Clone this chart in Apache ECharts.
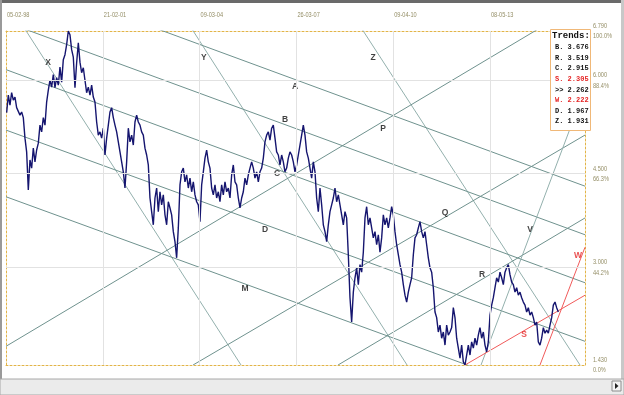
<!DOCTYPE html>
<html><head><meta charset="utf-8">
<script src="https://cdn.jsdelivr.net/npm/echarts@6/dist/echarts.min.js"></script>
<style>html,body{margin:0;padding:0;background:#fff;overflow:hidden}#c{width:624px;height:395px}</style>
</head><body><div id="c"></div>
<script>
// ---- axis ticks ----
const dateTickValues = [0, 755, 1510, 2265, 3020, 3775];
const dateTickLabels = ['05-02-98', '21-02-01', '09-03-04', '26-03-07', '09-04-10', '08-05-13'];
const priceTickValues = [1.43, 3.0, 4.5, 6.0, 6.79];
const priceTickPct = ['0.0%', '44.2%', '66.3%', '88.4%', '100.0%'];
const priceGridValues = [3.0, 4.5, 6.0];
const xMin = 0, xMax = 4516, yMin = 1.43, yMax = 6.79;

// ---- price series (one value every 13 bars, starting at bar 5) ----
const priceStartX = 5, priceStepX = 13;
const prices = [
5.48,5.76,5.60,5.80,5.68,5.73,5.56,5.57,5.44,5.49,5.40,5.07,4.85,4.24,4.72,4.59,4.91,4.69,4.88,4.99,
5.28,5.17,5.40,5.28,5.65,5.84,6.00,5.89,6.09,5.88,6.04,5.92,6.21,5.97,6.33,6.41,6.57,6.79,6.73,6.49,
6.37,5.88,6.28,6.60,6.29,6.12,6.20,6.00,5.80,5.89,5.76,5.92,5.73,5.65,5.33,5.12,5.17,5.07,5.23,4.80,
5.07,5.28,5.49,5.56,5.40,5.28,5.17,5.01,4.85,4.69,4.53,4.27,4.69,5.23,5.01,5.12,4.96,5.33,5.44,5.33,
5.28,5.17,5.12,4.91,4.80,4.64,4.11,
3.89,3.68,4.11,4.27,3.89,4.21,4.00,4.16,3.84,3.68,4.05,3.95,3.84,3.57,3.41,3.15,3.63,4.32,4.53,4.59,
4.37,4.48,4.27,4.43,4.21,4.37,4.16,4.05,4.00,3.73,4.32,4.53,4.75,4.88,4.69,4.59,4.27,4.16,4.32,4.11,
4.21,4.05,4.32,4.16,4.37,4.21,4.27,4.11,4.48,4.64,4.37,4.32,4.11,3.95,4.11,4.21,4.43,4.32,4.48,4.59,
4.69,4.59,4.43,4.53,4.37,4.53,4.59,4.75,5.01,5.12,5.17,5.04,5.23,5.28,5.07,4.85,4.80,4.64,4.80,4.69,
4.53,4.59,4.75,4.85,
4.80,4.69,4.53,4.64,4.80,4.96,5.12,5.28,5.12,4.85,4.75,4.59,4.43,4.69,4.53,4.11,3.89,4.27,4.00,3.68,
3.57,3.41,3.68,3.89,4.00,4.11,4.27,4.05,4.16,4.00,3.84,3.68,3.89,3.79,3.20,2.51,2.12,2.60,2.83,2.99,
2.72,3.04,2.92,3.24,3.79,3.97,3.68,3.79,3.63,3.47,3.57,3.36,3.52,3.24,3.47,3.84,3.68,3.79,3.63,3.79,
3.97,3.84,3.57,3.36,3.20,3.04,2.92,2.72,2.55,2.44,2.60,2.72,2.83,3.20,3.47,3.52,3.63,3.73,3.57,3.47,
3.57,3.36,3.15,2.99,2.92,2.67,2.28,
2.19,1.96,2.07,1.86,1.96,1.75,2.07,1.91,1.96,2.03,2.35,2.19,1.86,1.70,1.54,1.75,1.48,1.43,1.59,1.75,
1.59,1.80,1.70,1.86,1.75,1.91,2.03,1.86,1.96,1.75,1.64,1.80,2.23,2.39,2.51,2.67,2.83,2.76,2.92,2.83,
2.72,2.92,2.99,3.04,2.88,2.76,2.72,2.60,2.67,2.55,2.60,2.51,2.44,2.39,2.28,2.35,2.23,2.28,2.19,2.07,
2.12,1.80,1.75,1.86,2.03,1.94,1.99,1.94,2.07,2.19,2.39,2.44,2.35,2.28
];

// ---- trend lines (two anchor points each, in bar / price units) ----
const trendIds = ['X', 'Y', 'Z', 'A', 'B', 'C', 'D', 'M', 'P', 'Q', 'R', 'V', 'S', 'W'];
const trendX1 = [148, 1451, 2777, 1186, 148, 0, 0, 0, 0, 1459, 2590, 3705, 3580, 4165];
const trendY1 = [6.82, 6.82, 6.82, 6.82, 6.82, 6.17, 5.20, 4.13, 1.73, 1.43, 1.43, 1.43, 1.43, 1.43];
const trendX2 = [1833, 3128, 4477, 4516, 4516, 4516, 4516, 4516, 4516, 4516, 4516, 4516, 4516, 4516];
const trendY2 = [1.43, 1.43, 1.43, 4.30, 3.52, 2.75, 1.81, 0.74, 7.27, 5.12, 3.79, 5.86, 2.55, 3.32];
const redTrends = ['S', 'W'];
const steepTrends = ['X', 'Y', 'Z', 'V'];

// ---- letter labels on chart ----
const labelNames = ['X', 'Y', 'Z', 'A', 'B', 'P', 'C', 'Q', 'D', 'V', 'R', 'M', 'S', 'W'];
const labelX = [328, 1544, 2863, 2254, 2176, 2941, 2114, 3424, 2020, 4087, 3713, 1864, 4040, 4462];
const labelY = [6.29, 6.37, 6.37, 5.89, 5.36, 5.23, 4.50, 3.87, 3.61, 3.61, 2.88, 2.65, 1.91, 3.18];

// ---- trend value box ----
const boxTitle = 'Trends:';
const boxNames = ['B.', 'R.', 'C.', 'S.', '>>', 'W.', 'D.', 'Z.'];
const boxValues = [3.676, 3.519, 2.915, 2.305, 2.262, 2.222, 1.967, 1.931];
const boxRed = ['S.', 'W.'];

const chart = echarts.init(document.getElementById('c'), null, { renderer: 'canvas' });

const axisFont = "8px 'Liberation Sans',Arial,sans-serif";
const labelColor = '#948e66';
const borderStyle = { color: '#e2b448', width: 1, type: [2, 2] };
const hiddenLabel = { show: false };

const series = [];
series.push({
  type: 'line', data: [], silent: true, z: 1,
  markLine: {
    silent: true, symbol: ['none', 'none'], label: { show: false }, animation: false,
    lineStyle: { color: '#e2e2e2', width: 1, type: 'solid' },
    data: dateTickValues.filter(v => v > xMin).map(v => ({ xAxis: v }))
      .concat(priceGridValues.map(v => ({ yAxis: v })))
  }
});
trendIds.forEach((id, i) => {
  const red = redTrends.includes(id);
  const steep = steepTrends.includes(id);
  series.push({
    type: 'line', silent: true, z: 2, showSymbol: false, clip: true,
    data: [[trendX1[i], trendY1[i]], [trendX2[i], trendY2[i]]],
    lineStyle: { width: 1, color: red ? '#f05a5a' : (steep ? '#93b0ad' : '#6f928e') }
  });
});
series.push({
  type: 'line', z: 3, showSymbol: false, sampling: 'none', clip: true,
  data: prices.map((p, i) => [priceStartX + i * priceStepX, p]),
  lineStyle: { width: 1.4, color: '#15156f' }
});
series.push({
  type: 'scatter', z: 4, symbolSize: 0, silent: true,
  data: labelNames.map((n, i) => ({
    value: [labelX[i], labelY[i], n],
    label: { color: redTrends.includes(n) ? '#e52424' : '#111' }
  })),
  label: {
    show: true, position: 'inside', formatter: p => p.data.value[2],
    fontFamily: "'Liberation Sans',Arial,sans-serif", fontWeight: 'bold', fontSize: 8.5
  }
});

const axisBase = {
  type: 'value', axisTick: { show: false }, splitLine: { show: false }, axisLabel: hiddenLabel,
  axisLine: { show: true, onZero: false, lineStyle: borderStyle }
};

chart.setOption({
  animation: false,
  backgroundColor: '#fff',
  grid: { left: 6, right: 39, top: 31, bottom: 30, show: false },
  xAxis: [
    Object.assign({}, axisBase, { position: 'top', min: xMin, max: xMax }),
    Object.assign({}, axisBase, { position: 'bottom', min: xMin, max: xMax })
  ],
  yAxis: [
    Object.assign({}, axisBase, { position: 'right', min: yMin, max: yMax }),
    Object.assign({}, axisBase, { position: 'left', min: yMin, max: yMax })
  ],
  series: series
});

// ---- texts placed through the axes' own scales ----
const gx = v => chart.convertToPixel({ xAxisIndex: 0 }, v);
const gy = v => chart.convertToPixel({ yAxisIndex: 0 }, v);
const topY = gy(yMax), rightX = gx(xMax);

const graphic = [
  { type: 'rect', shape: { x: 0, y: 0, width: 624, height: 3 }, style: { fill: '#6a6a6a' }, z: 200 },
  { type: 'rect', shape: { x: 0, y: 0, width: 2, height: 395 }, style: { fill: '#9a9a9a' }, z: 200 },
  { type: 'rect', shape: { x: 621, y: 0, width: 3, height: 395 }, style: { fill: '#c8c8c8' }, z: 200 },
  { type: 'rect', shape: { x: 0, y: 379, width: 624, height: 16 }, style: { fill: '#ebebeb', stroke: '#a8a8a8', lineWidth: 1 }, z: 200 },
  { type: 'rect', shape: { x: 612, y: 381, width: 9, height: 10 }, style: { fill: '#f4f4f4', stroke: '#8c8c8c', lineWidth: 1 }, z: 201 },
  { type: 'polygon', shape: { points: [[615, 383], [615, 389], [618.5, 386]] }, style: { fill: '#222' }, z: 202 },
  { type: 'rect', shape: { x: 550.5, y: 29.5, width: 40, height: 101 }, style: { fill: '#fff', stroke: '#f0b878', lineWidth: 1 }, z: 100 },
  { type: 'text', x: 552, y: 31, z: 101,
    style: { text: boxTitle, font: "bold 9px 'Liberation Mono',monospace", fill: '#111' } }
];
boxNames.forEach((n, i) => {
  graphic.push({
    type: 'text', x: 555, y: 44 + i * 10.6, z: 101,
    style: { text: n + ' ' + boxValues[i].toFixed(3), font: "bold 7px 'Liberation Mono',monospace",
      fill: boxRed.includes(n) ? '#e52424' : '#111' }
  });
});
dateTickValues.forEach((v, i) => {
  graphic.push({
    type: 'text', x: gx(v) + 1, y: topY - 16.5, scaleX: 0.7, z: 50,
    style: { text: dateTickLabels[i], font: axisFont, fill: labelColor,
      verticalAlign: 'middle', textVerticalAlign: 'middle' }
  });
});
priceTickValues.forEach((v, i) => {
  graphic.push({
    type: 'text', x: rightX + 8, y: gy(v), scaleX: 0.7, z: 50,
    style: { text: v.toFixed(3) + '\n' + priceTickPct[i], font: axisFont, fill: labelColor,
      lineHeight: 10.5, verticalAlign: 'middle', textVerticalAlign: 'middle' }
  });
});
chart.setOption({ graphic: graphic });
</script>
</body></html>
